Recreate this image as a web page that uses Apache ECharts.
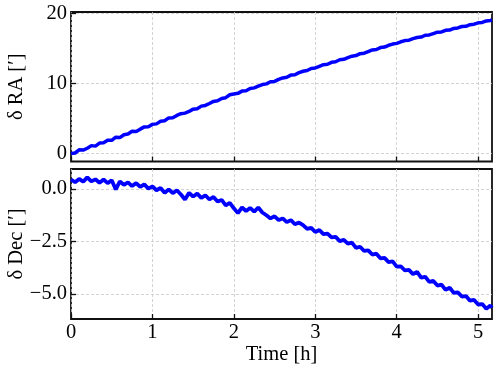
<!DOCTYPE html>
<html><head><meta charset="utf-8">
<script src="https://cdn.jsdelivr.net/npm/echarts@6/dist/echarts.min.js"></script>
<style>html,body{margin:0;padding:0;background:#fff}#c{width:499px;height:371px}</style>
</head><body><div id="c"></div>
<script>
const hours = [0,0.05,0.1,0.15,0.2,0.25,0.3,0.35,0.4,0.45,
0.5,0.55,0.6,0.65,0.7,0.75,0.8,0.85,0.9,0.95,
1,1.05,1.1,1.15,1.2,1.25,1.3,1.35,1.4,1.45,
1.5,1.55,1.6,1.65,1.7,1.75,1.8,1.85,1.9,1.95,
2,2.05,2.1,2.15,2.2,2.25,2.3,2.35,2.4,2.45,
2.5,2.55,2.6,2.65,2.7,2.75,2.8,2.85,2.9,2.95,
3,3.05,3.1,3.15,3.2,3.25,3.3,3.35,3.4,3.45,
3.5,3.55,3.6,3.65,3.7,3.75,3.8,3.85,3.9,3.95,
4,4.05,4.1,4.15,4.2,4.25,4.3,4.35,4.4,4.45,
4.5,4.55,4.6,4.65,4.7,4.75,4.8,4.85,4.9,4.95,
5,5.05,5.1,5.15,5.17];
const deltaRA = [0.02,0.10,0.55,0.52,0.78,1.15,1.08,1.52,1.55,1.92,
1.90,2.35,2.30,2.70,2.80,3.20,3.15,3.50,3.82,3.85,
4.18,4.25,4.62,4.70,5.10,5.12,5.45,5.70,5.78,6.02,
6.35,6.42,6.78,6.88,7.15,7.45,7.55,7.88,7.98,8.40,
8.50,8.60,8.92,8.98,9.30,9.38,9.62,9.85,9.95,10.25,
10.30,10.58,10.80,10.90,11.20,11.25,11.55,11.75,11.85,12.15,
12.22,12.45,12.68,12.75,13.02,13.10,13.38,13.45,13.70,13.90,
13.98,14.25,14.32,14.55,14.78,14.85,15.12,15.20,15.45,15.62,
15.72,15.95,16.12,16.18,16.40,16.55,16.62,16.88,16.92,17.12,
17.32,17.35,17.58,17.62,17.85,17.92,18.12,18.15,18.38,18.45,
18.65,18.70,18.92,18.98,19.05];
const deltaDec = [0.45,0.32,0.48,0.35,0.55,0.36,0.46,0.30,0.45,0.28,
0.42,-0.02,0.36,0.20,0.32,0.14,0.28,0.10,0.22,0.02,
0.12,-0.06,0.05,-0.18,-0.02,-0.20,-0.06,-0.26,-0.50,-0.18,
-0.36,-0.22,-0.42,-0.30,-0.50,-0.38,-0.60,-0.52,-0.78,-0.66,
-0.92,-1.15,-0.88,-1.05,-0.90,-1.08,-0.88,-1.12,-1.25,-1.40,
-1.30,-1.48,-1.40,-1.58,-1.48,-1.68,-1.60,-1.72,-1.90,-1.85,
-2.05,-1.95,-2.15,-2.12,-2.30,-2.28,-2.48,-2.42,-2.60,-2.55,
-2.80,-2.75,-2.95,-2.92,-3.12,-3.08,-3.30,-3.28,-3.48,-3.45,
-3.70,-3.68,-3.88,-3.85,-4.05,-3.95,-4.22,-4.18,-4.42,-4.38,
-4.60,-4.55,-4.80,-4.70,-4.95,-4.92,-5.12,-5.10,-5.32,-5.28,
-5.50,-5.48,-5.70,-5.55,-5.65];
const xTicks = [0,1,2,3,4,5];
const raTicks = [0,10,20];
const decTicks = [-5,-2.5,0];
const xLabel = 'Time [h]';
const raLabel = 'δ RA [′]';
const decLabel = 'δ Dec [′]';

const FONT = '"Liberation Serif","DejaVu Serif",serif';
const FS = 20.5;
const gridLine = {show:true, lineStyle:{color:'#c8c8c8', width:0.8, type:[3,2]}};
const tick = (vals)=>({show:true, inside:true, length:5, customValues:vals, lineStyle:{color:'#111', width:1.3}});
const fmt = v => (v<0?'\u2212':'') + Math.abs(v).toFixed(1);
const noLine = {show:false, onZero:false};

const chart = echarts.init(document.getElementById('c'), null, {renderer:'canvas'});
chart.setOption({
  animation:false,
  backgroundColor:'#fff',
  grid:[
    {left:71, top:12, width:421, height:149.5, outerBoundsMode:'none', containLabel:false, show:true, borderColor:'#111', borderWidth:1.8, backgroundColor:'transparent'},
    {left:71, top:169, width:421, height:150, outerBoundsMode:'none', containLabel:false, show:true, borderColor:'#111', borderWidth:1.8, backgroundColor:'transparent'}
  ],
  xAxis:[
    {type:'value', gridIndex:0, min:0, max:5.17, axisLine:noLine, axisTick:tick(xTicks),
     axisLabel:{show:false, customValues:xTicks}, splitLine:gridLine},
    {type:'value', gridIndex:1, min:0, max:5.17, axisLine:noLine, axisTick:tick(xTicks),
     axisLabel:{show:true, customValues:xTicks, margin:3, fontFamily:FONT, fontSize:FS, color:'#000'},
     splitLine:gridLine, name:xLabel, nameLocation:'middle', nameGap:25, nameMoveOverlap:false,
     nameTextStyle:{fontFamily:FONT, fontSize:FS, color:'#000'}}
  ],
  yAxis:[
    {type:'value', gridIndex:0, min:-1.11, max:20.19, axisLine:noLine, axisTick:tick(raTicks),
     axisLabel:{show:true, customValues:raTicks, margin:4, fontFamily:FONT, fontSize:FS, color:'#000'},
     splitLine:gridLine, name:raLabel, nameLocation:'middle', nameGap:44, nameMoveOverlap:false,
     nameTextStyle:{fontFamily:FONT, fontSize:FS, color:'#000'}},
    {type:'value', gridIndex:1, min:-6.19, max:0.952, axisLine:noLine, axisTick:tick(decTicks),
     axisLabel:{show:true, customValues:decTicks, margin:4, fontFamily:FONT, fontSize:FS, color:'#000', formatter:fmt},
     splitLine:gridLine, name:decLabel, nameLocation:'middle', nameGap:44, nameMoveOverlap:false,
     nameTextStyle:{fontFamily:FONT, fontSize:FS, color:'#000'}}
  ],
  series:[
    {type:'line', xAxisIndex:0, yAxisIndex:0, data:hours.map((h,i)=>[h,deltaRA[i]]), showSymbol:false,
     lineStyle:{color:'#0000ff', width:3.5}, clip:true},
    {type:'line', xAxisIndex:1, yAxisIndex:1, data:hours.map((h,i)=>[h,deltaDec[i]]), showSymbol:false,
     lineStyle:{color:'#0000ff', width:3.8}, clip:true}
  ]
});
</script></body></html>
